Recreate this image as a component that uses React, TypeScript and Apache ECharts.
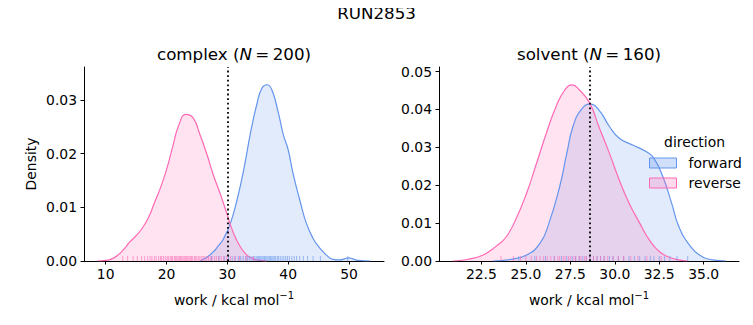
import React, { useEffect, useRef } from "react";
import * as echarts from "echarts";

const FONT = "DejaVu Sans";
const BLUE = "#6495ED";
const PINK = "#FF69B4";
const BLUE_FILL = "rgba(100,149,237,0.27)";
const PINK_FILL = "rgba(255,105,180,0.27)";
const TICK_FS = 13.9;
const TITLE_FS = 16.7;

// complex leg KDE (work, density)
const complexForwardX = [25.5, 26.5, 27.7, 28.5, 29.4, 30.5, 31.6, 32.7, 33.8, 34.9, 35.7, 36.5, 37.3, 38.4, 39.2, 40.0, 40.8, 41.9, 43.0, 44.1, 45.2, 46.3, 47.4, 48.5, 49.3, 49.9, 50.6, 51.5, 53.5];
const complexForwardY = [0, 0.0006, 0.0017, 0.0028, 0.0042, 0.007, 0.0114, 0.017, 0.0238, 0.0294, 0.0322, 0.0328, 0.0319, 0.0275, 0.0235, 0.0207, 0.0163, 0.0114, 0.007, 0.0042, 0.0024, 0.0011, 0.0003, 0.0002, 0.0004, 0.0006, 0.0004, 0.0001, 0];
const complexReverseX = [8.6, 10.0, 11.0, 12.0, 13.0, 14.0, 15.0, 16.0, 17.0, 18.0, 19.0, 20.0, 21.0, 22.0, 23.2, 24.4, 25.5, 26.6, 27.7, 28.8, 29.9, 31.0, 32.1, 33.2, 34.3, 35.5, 36.5];
const complexReverseY = [0, 0.0001, 0.0004, 0.0011, 0.0022, 0.0036, 0.0047, 0.0061, 0.008, 0.0108, 0.0136, 0.017, 0.0212, 0.0252, 0.0273, 0.0266, 0.0235, 0.02, 0.016, 0.0126, 0.0089, 0.0052, 0.0027, 0.0011, 0.0004, 0.0001, 0];

// solvent leg KDE
const solventForwardX = [23.15, 24.1, 25.04, 25.8, 26.3, 26.9, 27.3, 27.65, 28.1, 28.6, 29.1, 29.7, 30.25, 31.0, 31.75, 32.2, 32.7, 33.2, 33.6, 34.2, 34.76, 35.5, 36.25];
const solventForwardY = [0, 0.0004, 0.0016, 0.0047, 0.01, 0.0196, 0.0284, 0.0355, 0.0399, 0.0414, 0.0399, 0.0355, 0.0324, 0.0306, 0.0289, 0.0271, 0.0223, 0.0152, 0.0091, 0.0042, 0.0016, 0.0003, 0];
const solventReverseX = [20.9, 21.7, 22.6, 23.3, 23.9, 24.5, 25.04, 25.6, 26.15, 26.7, 27.2, 27.6, 28.0, 28.6, 29.1, 29.7, 30.25, 30.8, 31.4, 31.95, 32.5, 33.06, 33.6, 34.1];
const solventReverseY = [0, 0.0004, 0.0016, 0.0038, 0.0064, 0.0117, 0.0179, 0.0258, 0.0337, 0.0408, 0.0452, 0.0465, 0.0452, 0.0416, 0.0355, 0.0284, 0.0214, 0.0153, 0.01, 0.0055, 0.0025, 0.001, 0.0003, 0];

// rug samples (estimated)
const complexForwardRug = [27.4, 28.6, 29.5, 30.2, 30.8, 31.3, 31.8, 32.2, 32.6, 33.0, 33.3, 33.6, 33.9, 34.2, 34.4, 34.7, 34.9, 35.1, 35.3, 35.5, 35.7, 35.9, 36.1, 36.3, 36.5, 36.7, 36.9, 37.1, 37.3, 37.5, 37.7, 37.9, 38.2, 38.4, 38.7, 39.0, 39.3, 39.6, 39.9, 40.2, 40.6, 41.0, 41.4, 41.9, 42.5, 43.2, 44.1, 45.3, 49.8];
const complexReverseRug = [12.8, 13.6, 14.5, 15.2, 15.9, 16.4, 16.9, 17.3, 17.6, 18.0, 18.3, 18.7, 19.0, 19.2, 19.5, 19.8, 20.1, 20.3, 20.6, 20.8, 21.0, 21.3, 21.5, 21.7, 21.9, 22.1, 22.3, 22.5, 22.7, 22.9, 23.1, 23.3, 23.5, 23.7, 23.9, 24.1, 24.3, 24.6, 24.8, 25.0, 25.3, 25.5, 25.8, 26.0, 26.3, 26.6, 26.9, 27.2, 27.5, 27.9, 28.2, 28.6, 29.0, 29.4, 29.9, 30.5, 31.2, 32.0, 33.1, 34.3];
const solventForwardRug = [24.6, 25.5, 26.1, 26.6, 27.0, 27.3, 27.6, 27.8, 28.0, 28.2, 28.4, 28.6, 28.8, 29.0, 29.2, 29.4, 29.7, 29.9, 30.2, 30.5, 30.8, 31.1, 31.4, 31.7, 32.0, 32.2, 32.5, 32.8, 33.1, 33.5, 34.1];
const solventReverseRug = [23.6, 24.3, 24.7, 25.0, 25.3, 25.6, 25.8, 26.0, 26.2, 26.4, 26.6, 26.8, 26.9, 27.1, 27.2, 27.4, 27.5, 27.7, 27.8, 28.0, 28.1, 28.3, 28.4, 28.6, 28.8, 29.0, 29.2, 29.4, 29.6, 29.9, 30.2, 30.5, 30.9, 31.3, 31.8, 32.6];

// axes ticks
const complexXTicks = [10, 20, 30, 40, 50];
const complexYTicks = [0, 0.01, 0.02, 0.03];
const solventXTicks = [22.5, 25.0, 27.5, 30.0, 32.5, 35.0];
const solventYTicks = [0, 0.01, 0.02, 0.03, 0.04, 0.05];

// mean work (dotted line)
const complexMark = 30.0;
const solventMark = 28.62;

const zip = (xs: number[], ys: number[]) => xs.map((x, i) => [x, ys[i]]);

function kde(name: string, idx: number, xs: number[], ys: number[], line: string, fill: string, mark?: number) {
  const s: any = {
    type: "line",
    name,
    xAxisIndex: idx,
    yAxisIndex: idx,
    data: zip(xs, ys),
    smooth: 0.5,
    showSymbol: false,
    symbol: "none",
    lineStyle: { color: line, width: 1.2 },
    itemStyle: { color: line },
    areaStyle: { color: fill, origin: "start" },
    z: 2,
  };
  if (mark !== undefined) {
    s.markLine = {
      silent: true,
      symbol: "none",
      label: { show: false },
      lineStyle: { color: "#000", width: 1.8, type: [1.8, 2.8] },
      data: [{ xAxis: mark }],
      z: 5,
    };
  }
  return s;
}

function rug(idx: number, vals: number[], color: string) {
  return {
    type: "custom",
    name: "rug",
    xAxisIndex: idx,
    yAxisIndex: idx,
    data: vals.map((v) => [v, 0]),
    encode: { x: 0, y: 1 },
    z: 3,
    renderItem: (_p: any, api: any) => {
      const p = api.coord([api.value(0), 0]);
      return {
        type: "line",
        shape: { x1: p[0], y1: p[1], x2: p[0], y2: p[1] - 5 },
        style: { stroke: color, lineWidth: 1, opacity: 0.6 },
      };
    },
  };
}

function xAxis(idx: number, min: number, max: number, ticks: number[], digits: number) {
  return {
    type: "value",
    gridIndex: idx,
    min,
    max,
    axisLine: { show: true, onZero: false, lineStyle: { color: "#000", width: 1 } },
    axisTick: { show: true, length: 3.5, customValues: ticks, lineStyle: { color: "#000", width: 1 } },
    axisLabel: {
      customValues: ticks,
      color: "#000",
      fontSize: TICK_FS,
      fontFamily: FONT,
      margin: 6,
      formatter: (v: number) => v.toFixed(digits),
    },
    splitLine: { show: false },
  };
}

function yAxis(idx: number, max: number, ticks: number[]) {
  return {
    type: "value",
    gridIndex: idx,
    min: 0,
    max,
    axisLine: { show: true, lineStyle: { color: "#000", width: 1 } },
    axisTick: { show: true, length: 3.5, customValues: ticks, lineStyle: { color: "#000", width: 1 } },
    axisLabel: {
      customValues: ticks,
      color: "#000",
      fontSize: TICK_FS,
      fontFamily: FONT,
      margin: 7,
      formatter: (v: number) => v.toFixed(2),
    },
    splitLine: { show: false },
  };
}

const titleRich = {
  a: { fontSize: TITLE_FS, fontFamily: FONT, color: "#000" },
  i: { fontSize: TITLE_FS, fontFamily: FONT, fontStyle: "italic", color: "#000" },
};
const labelRich = {
  a: { fontSize: TICK_FS, fontFamily: FONT, color: "#000" },
  s: { fontSize: 10, fontFamily: FONT, color: "#000", padding: [0, 0, 9, 0] },
};

export default function App() {
  const ref = useRef<HTMLDivElement>(null);
  useEffect(() => {
    if (!ref.current) return;
    const chart = echarts.init(ref.current, undefined, { renderer: "svg" });
    chart.setOption({
      animation: false,
      backgroundColor: "#fff",
      grid: [
        { left: 84, top: 67, width: 300, height: 194 },
        { left: 439, top: 67, width: 300, height: 194 },
      ],
      xAxis: [xAxis(0, 6.43, 55.76, complexXTicks, 0), xAxis(1, 20.115, 36.985, solventXTicks, 1)],
      yAxis: [yAxis(0, 0.0361, complexYTicks), yAxis(1, 0.0512, solventYTicks)],
      legend: {
        orient: "vertical",
        left: 644,
        top: 151,
        itemWidth: 27,
        itemHeight: 10,
        itemGap: 6,
        icon: "rect",
        selectedMode: false,
        textStyle: { fontSize: TICK_FS, fontFamily: FONT, color: "#000", padding: [0, 0, 0, 7] },
        data: [
          { name: "forward", itemStyle: { color: "rgba(100,149,237,0.3)", borderColor: BLUE, borderWidth: 1 } },
          { name: "reverse", itemStyle: { color: "rgba(255,105,180,0.25)", borderColor: PINK, borderWidth: 1 } },
        ],
      },
      series: [
        kde("forward", 0, complexForwardX, complexForwardY, BLUE, BLUE_FILL),
        kde("reverse", 0, complexReverseX, complexReverseY, PINK, PINK_FILL, complexMark),
        kde("forward", 1, solventForwardX, solventForwardY, BLUE, BLUE_FILL),
        kde("reverse", 1, solventReverseX, solventReverseY, PINK, PINK_FILL, solventMark),
        rug(0, complexForwardRug, BLUE),
        rug(0, complexReverseRug, PINK),
        rug(1, solventForwardRug, BLUE),
        rug(1, solventReverseRug, PINK),
      ],
      graphic: [
        {
          type: "text",
          x: 376.5,
          y: 13,
          style: { text: "RUN2853", fontSize: TITLE_FS, fontFamily: FONT, fill: "#000", align: "center", verticalAlign: "middle" },
        },
        {
          type: "text",
          x: 234,
          y: 54,
          style: { text: "{a|complex (}{i|N}{a|\u2009=\u2009200)}", rich: titleRich, align: "center", verticalAlign: "middle" },
        },
        {
          type: "text",
          x: 589,
          y: 54,
          style: { text: "{a|solvent (}{i|N}{a|\u2009=\u2009160)}", rich: titleRich, align: "center", verticalAlign: "middle" },
        },
        {
          type: "text",
          x: 234,
          y: 300,
          style: { text: "{a|work / kcal mol}{s|\u22121}", rich: labelRich, align: "center", verticalAlign: "middle" },
        },
        {
          type: "text",
          x: 589,
          y: 300,
          style: { text: "{a|work / kcal mol}{s|\u22121}", rich: labelRich, align: "center", verticalAlign: "middle" },
        },
        {
          type: "text",
          x: 31,
          y: 164,
          rotation: Math.PI / 2,
          style: { text: "Density", fontSize: TICK_FS, fontFamily: FONT, fill: "#000", align: "center", verticalAlign: "middle" },
        },
        {
          type: "text",
          x: 694.5,
          y: 142,
          style: { text: "direction", fontSize: TICK_FS, fontFamily: FONT, fill: "#000", align: "center", verticalAlign: "middle" },
        },
      ],
    });
    return () => chart.dispose();
  }, []);
  return <div ref={ref} style={{ width: 753, height: 325, margin: -8 }} />;
}
